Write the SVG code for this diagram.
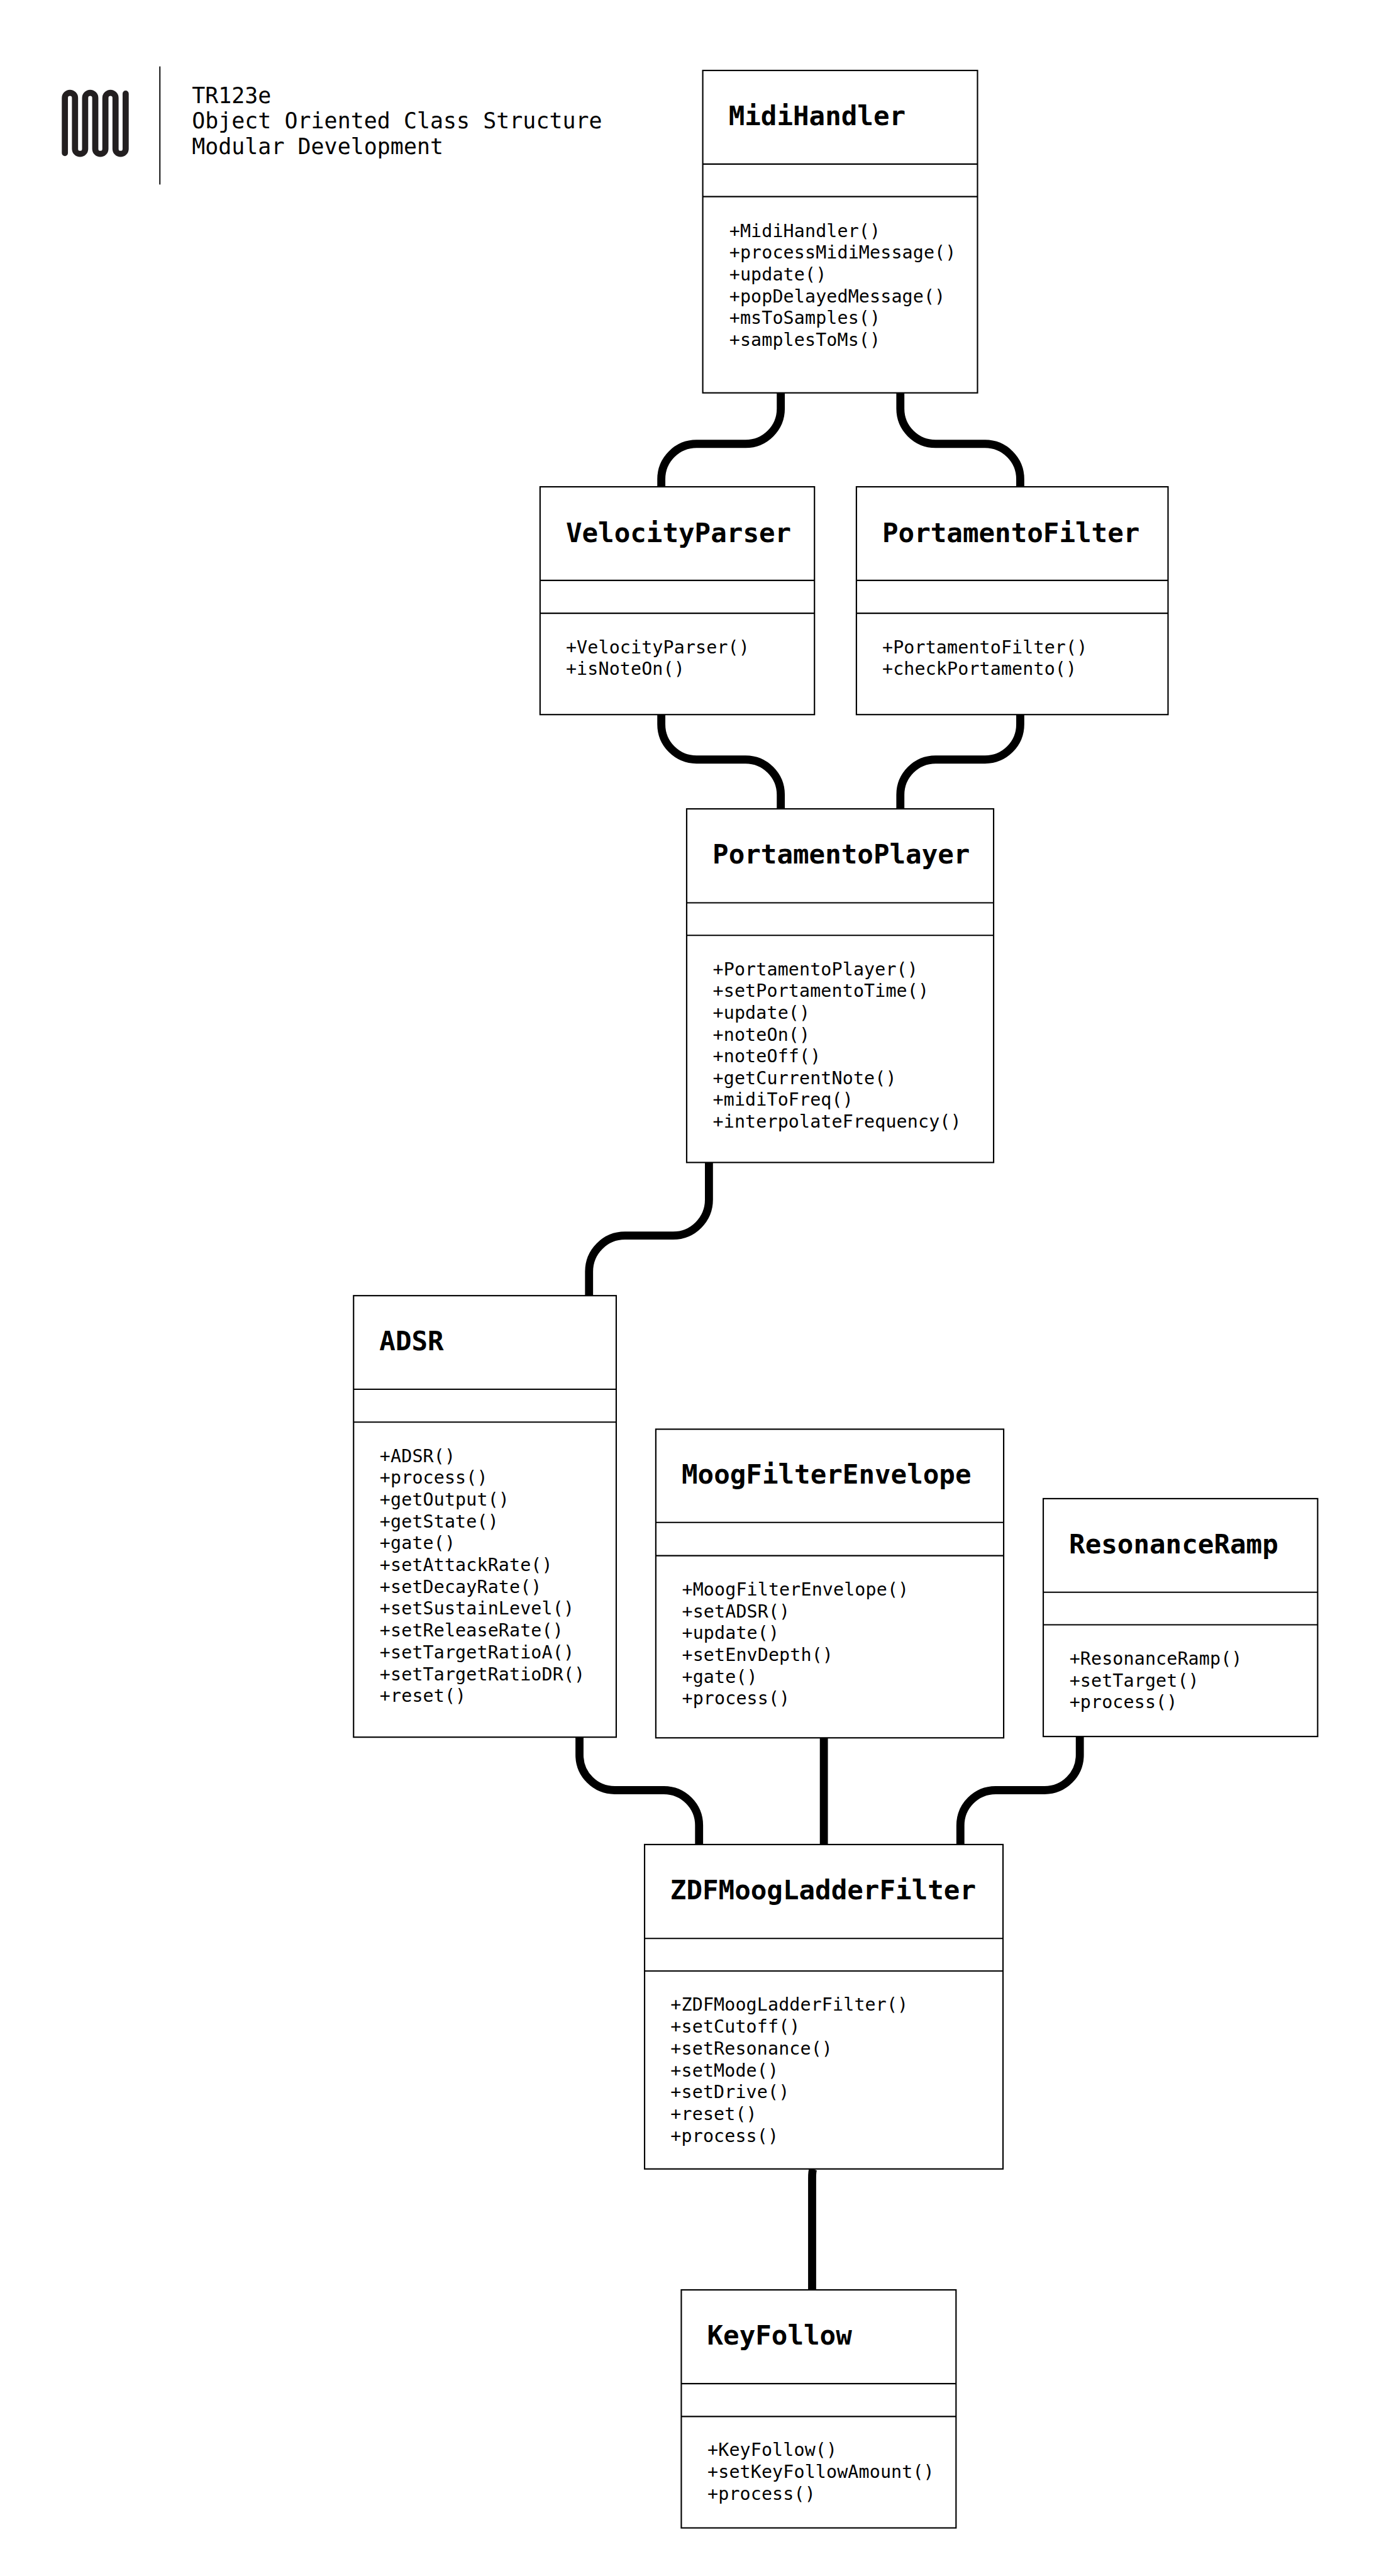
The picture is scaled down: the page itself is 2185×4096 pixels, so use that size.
<svg xmlns="http://www.w3.org/2000/svg" width="2185" height="4096" viewBox="0 0 2185 4096">
<style>
.b{fill:#fff;stroke:#000;stroke-width:4}
.d{stroke:#000;stroke-width:4;fill:none}
.c{fill:none;stroke:#000;stroke-width:24}
text{font-family:"DejaVu Sans Mono","Liberation Mono",monospace;fill:#000}
.t{font-size:79.7px;font-weight:700}
.m{font-size:53.1px;letter-spacing:0.25px}
.h{font-size:65.4px;letter-spacing:0.1px}
</style>
<rect width="2185" height="4096" fill="#fff"/>
<g transform="scale(0.53345)">
<g id="header">
<path d="M193.4,456V291.8A15.1,15.1 0 0 1 223.6,291.8V443.6A15.1,15.1 0 0 0 253.8,443.6V291.8A15.1,15.1 0 0 1 284,291.8V443.6A15.1,15.1 0 0 0 314.2,443.6V291.8A15.1,15.1 0 0 1 344.4,291.8V443.6A15.1,15.1 0 0 0 374.6,443.6V279.3" fill="none" stroke="#231f20" stroke-width="18.3" stroke-linecap="round"/>
<path d="M476.6,198V550" stroke="#000" stroke-width="3.5"/>
<text class="h" x="572" y="307">TR123e</text>
<text class="h" x="572" y="383">Object Oriented Class Structure</text>
<text class="h" x="572" y="459">Modular Development</text>
</g>
<g id="connectors">
<path class="c" d="M2327.6,1170V1218A105,105 0 0 1 2222.6,1323H2076.4A105,105 0 0 0 1971.4,1428V1451"/>
<path class="c" d="M2684,1170V1218A105,105 0 0 0 2789,1323H2936.4A105,105 0 0 1 3041.4,1428V1451"/>
<path class="c" d="M1971.4,2130V2159A105,105 0 0 0 2076.4,2264H2222.6A105,105 0 0 1 2327.6,2369V2411"/>
<path class="c" d="M3041.4,2130V2159A105,105 0 0 1 2936.4,2264H2789A105,105 0 0 0 2684,2369V2411"/>
<path class="c" d="M2113.4,3465V3576A107,107 0 0 1 2006.4,3683H1863A107,107 0 0 0 1756,3790V3862"/>
<path class="c" d="M1727.5,5178V5231A105,105 0 0 0 1832.5,5336H1979A105,105 0 0 1 2084,5441V5498"/>
<path class="c" d="M2456,5180V5498"/>
<path class="c" d="M3219,5176V5231A105,105 0 0 1 3114,5336H2968A105,105 0 0 0 2863,5441V5498"/>
<path class="c" d="M2424,6465Q2421,6472 2421,6492V6825"/>
</g>
<g id="MidiHandler">
<rect class="b" x="2095" y="210" width="819" height="961"/>
<path class="d" d="M2095,489H2914M2095,586H2914"/>
<text class="t" x="2172" y="373">MidiHandler</text>
<text class="m" x="2174" y="706">+MidiHandler()</text>
<text class="m" x="2174" y="771">+processMidiMessage()</text>
<text class="m" x="2174" y="836">+update()</text>
<text class="m" x="2174" y="901">+popDelayedMessage()</text>
<text class="m" x="2174" y="966">+msToSamples()</text>
<text class="m" x="2174" y="1031">+samplesToMs()</text>
</g>
<g id="VelocityParser">
<rect class="b" x="1610" y="1451" width="818" height="679"/>
<path class="d" d="M1610,1730H2428M1610,1828H2428"/>
<text class="t" x="1687" y="1615">VelocityParser</text>
<text class="m" x="1687" y="1947">+VelocityParser()</text>
<text class="m" x="1687" y="2012">+isNoteOn()</text>
</g>
<g id="PortamentoFilter">
<rect class="b" x="2553" y="1451" width="929" height="679"/>
<path class="d" d="M2553,1730H3482M2553,1828H3482"/>
<text class="t" x="2630" y="1615">PortamentoFilter</text>
<text class="m" x="2630" y="1947">+PortamentoFilter()</text>
<text class="m" x="2630" y="2012">+checkPortamento()</text>
</g>
<g id="PortamentoPlayer">
<rect class="b" x="2047" y="2411" width="915" height="1054"/>
<path class="d" d="M2047,2691H2962M2047,2788H2962"/>
<text class="t" x="2124" y="2574">PortamentoPlayer</text>
<text class="m" x="2125" y="2907">+PortamentoPlayer()</text>
<text class="m" x="2125" y="2972">+setPortamentoTime()</text>
<text class="m" x="2125" y="3037">+update()</text>
<text class="m" x="2125" y="3102">+noteOn()</text>
<text class="m" x="2125" y="3167">+noteOff()</text>
<text class="m" x="2125" y="3232">+getCurrentNote()</text>
<text class="m" x="2125" y="3296">+midiToFreq()</text>
<text class="m" x="2125" y="3361">+interpolateFrequency()</text>
</g>
<g id="ADSR">
<rect class="b" x="1054" y="3862" width="783" height="1316"/>
<path class="d" d="M1054,4141H1837M1054,4239H1837"/>
<text class="t" x="1131" y="4025">ADSR</text>
<text class="m" x="1132" y="4358">+ADSR()</text>
<text class="m" x="1132" y="4423">+process()</text>
<text class="m" x="1132" y="4488">+getOutput()</text>
<text class="m" x="1132" y="4553">+getState()</text>
<text class="m" x="1132" y="4618">+gate()</text>
<text class="m" x="1132" y="4683">+setAttackRate()</text>
<text class="m" x="1132" y="4748">+setDecayRate()</text>
<text class="m" x="1132" y="4813">+setSustainLevel()</text>
<text class="m" x="1132" y="4878">+setReleaseRate()</text>
<text class="m" x="1132" y="4943">+setTargetRatioA()</text>
<text class="m" x="1132" y="5008">+setTargetRatioDR()</text>
<text class="m" x="1132" y="5073">+reset()</text>
</g>
<g id="MoogFilterEnvelope">
<rect class="b" x="1955" y="4260" width="1037" height="920"/>
<path class="d" d="M1955,4538H2992M1955,4637H2992"/>
<text class="t" x="2032" y="4423">MoogFilterEnvelope</text>
<text class="m" x="2033" y="4756">+MoogFilterEnvelope()</text>
<text class="m" x="2033" y="4821">+setADSR()</text>
<text class="m" x="2033" y="4886">+update()</text>
<text class="m" x="2033" y="4951">+setEnvDepth()</text>
<text class="m" x="2033" y="5016">+gate()</text>
<text class="m" x="2033" y="5081">+process()</text>
</g>
<g id="ResonanceRamp">
<rect class="b" x="3110" y="4467" width="818" height="709"/>
<path class="d" d="M3110,4746H3928M3110,4843H3928"/>
<text class="t" x="3187" y="4630">ResonanceRamp</text>
<text class="m" x="3188" y="4962">+ResonanceRamp()</text>
<text class="m" x="3188" y="5027">+setTarget()</text>
<text class="m" x="3188" y="5092">+process()</text>
</g>
<g id="ZDFMoogLadderFilter">
<rect class="b" x="1921.5" y="5498" width="1068.5" height="967"/>
<path class="d" d="M1921.5,5778H2990M1921.5,5875H2990"/>
<text class="t" x="1998" y="5661">ZDFMoogLadderFilter</text>
<text class="m" x="1999" y="5994">+ZDFMoogLadderFilter()</text>
<text class="m" x="1999" y="6059">+setCutoff()</text>
<text class="m" x="1999" y="6124">+setResonance()</text>
<text class="m" x="1999" y="6189">+setMode()</text>
<text class="m" x="1999" y="6254">+setDrive()</text>
<text class="m" x="1999" y="6319">+reset()</text>
<text class="m" x="1999" y="6384">+process()</text>
</g>
<g id="KeyFollow">
<rect class="b" x="2031" y="6825.5" width="819" height="709.5"/>
<path class="d" d="M2031,7105H2850M2031,7203H2850"/>
<text class="t" x="2108" y="6988">KeyFollow</text>
<text class="m" x="2109" y="7321">+KeyFollow()</text>
<text class="m" x="2109" y="7386">+setKeyFollowAmount()</text>
<text class="m" x="2109" y="7451">+process()</text>
</g>
</g>
</svg>
